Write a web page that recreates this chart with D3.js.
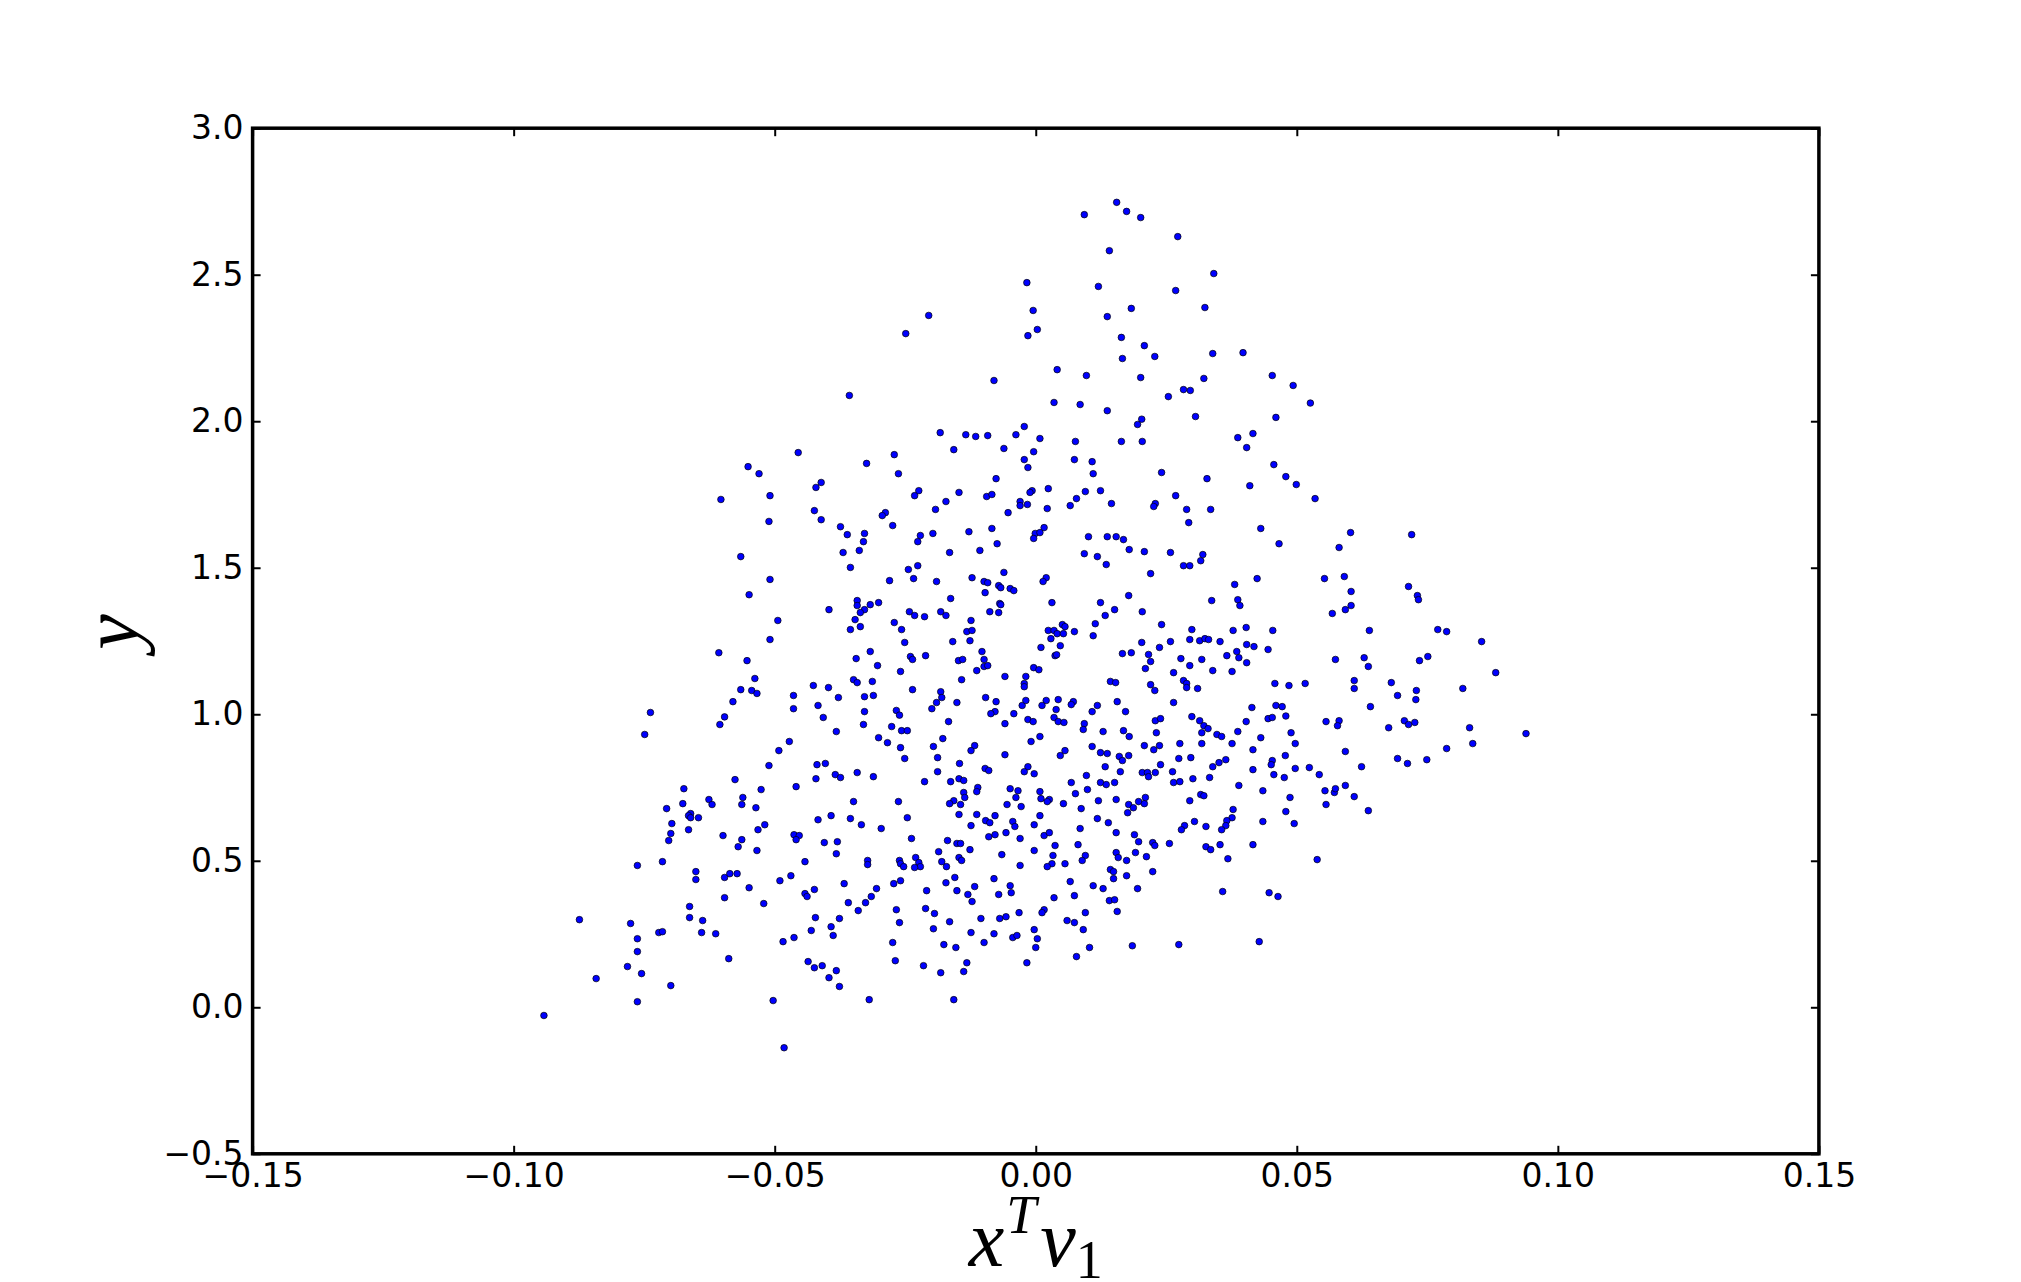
<!DOCTYPE html>
<html>

<head>
    <meta charset="utf-8">
    <title>x^T v1 vs y</title>
    <script src="https://d3js.org/d3.v7.min.js"></script>
    <style>
        body {
            margin: 0;
            background: #fff;
        }

        svg {
            display: block;
        }

        .axis path.domain {
            display: none;
        }

        .tick line {
            stroke: black;
            stroke-width: 2px;
        }

        .tick text {
            font-family: "DejaVu Sans", sans-serif;
            font-size: 33px;
            fill: black;
        }

        .frame {
            fill: none;
            stroke: black;
            stroke-width: 3.5px;
        }

        circle.pt {
            fill: #0000ff;
            stroke: black;
            stroke-width: 0.7px;
        }

        .label {
            font-family: "Liberation Serif", serif;
            font-style: italic;
            fill: black;
        }
    </style>
</head>

<body>
    <script>
        // tick values
        let xTicks = [-0.15, -0.10, -0.05, 0, 0.05, 0.10, 0.15];
        let yTicks = [-0.5, 0, 0.5, 1.0, 1.5, 2.0, 2.5, 3.0];

        // [x^T v1, y]
        let points = [
            [-0.0017, 2.473], [-0.0005, 2.378], [-0.0205, 2.361], [-0.0249, 2.299], [-0.0015, 2.292], [-0.0080, 2.139], [-0.0357, 2.088],
            [0.0093, 2.705], [0.0155, 2.747], [0.0174, 2.716], [0.0201, 2.695], [0.0272, 2.630], [0.0141, 2.582], [0.0341, 2.504], [0.0120, 2.460],
            [0.0268, 2.446], [0.0183, 2.385], [0.0324, 2.388], [0.0137, 2.357], [0.0003, 2.313], [0.0164, 2.286], [0.0208, 2.258], [0.0166, 2.214],
            [0.0228, 2.221], [0.0339, 2.231], [0.0397, 2.234], [0.0041, 2.176], [0.0097, 2.156], [0.0201, 2.149], [0.0322, 2.146], [0.0453, 2.156],
            [0.0493, 2.122], [0.0283, 2.108], [0.0296, 2.105], [0.0254, 2.084], [0.0035, 2.064], [0.0085, 2.057], [0.0137, 2.036], [0.0203, 2.007],
            [0.0306, 2.016], [0.0460, 2.013], [0.0526, 2.062],

            [-0.0551, 1.845], [-0.0530, 1.821], [-0.0509, 1.746], [-0.0603, 1.733], [-0.0511, 1.658], [-0.0565, 1.538], [-0.0509, 1.460],
            [-0.0549, 1.408], [-0.0509, 1.255], [-0.0607, 1.210], [-0.0553, 1.183], [-0.0538, 1.122], [-0.0565, 1.084], [-0.0544, 1.081],
            [-0.0534, 1.071], [-0.0580, 1.043], [-0.0738, 1.006],

            [-0.0183, 1.961], [-0.0134, 1.954], [-0.0115, 1.948], [-0.0092, 1.951], [-0.0038, 1.954], [-0.0022, 1.982], [-0.0455, 1.893],
            [-0.0271, 1.886], [-0.0157, 1.903], [-0.0061, 1.907], [-0.0004, 1.896], [-0.0324, 1.856], [-0.0263, 1.821], [-0.0022, 1.869],
            [-0.0015, 1.842], [-0.0411, 1.791], [-0.0421, 1.774], [-0.0076, 1.804], [-0.0224, 1.763], [-0.0232, 1.746], [-0.0147, 1.757],
            [-0.0172, 1.726], [-0.0192, 1.699], [-0.0094, 1.743], [-0.0084, 1.750], [-0.0007, 1.763], [-0.0011, 1.757], [-0.0030, 1.726],
            [-0.0030, 1.712], [-0.0016, 1.716], [-0.0053, 1.688], [-0.0424, 1.695], [-0.0411, 1.664], [-0.0288, 1.688], [-0.0294, 1.678],
            [-0.0274, 1.644], [-0.0374, 1.640], [-0.0361, 1.613], [-0.0328, 1.617], [-0.0330, 1.589], [-0.0338, 1.559], [-0.0369, 1.552],
            [-0.0221, 1.610], [-0.0226, 1.589], [-0.0197, 1.617], [-0.0128, 1.623], [-0.0084, 1.634], [-0.0074, 1.582], [-0.0107, 1.559],
            [-0.0165, 1.552], [-0.0001, 1.617], [-0.0004, 1.600], [-0.0355, 1.501], [-0.0244, 1.494], [-0.0226, 1.507], [-0.0234, 1.463],
            [-0.0280, 1.456], [-0.0190, 1.453], [-0.0122, 1.466], [-0.0061, 1.484], [-0.0099, 1.453], [-0.0092, 1.449], [-0.0097, 1.415],
            [-0.0071, 1.439], [-0.0067, 1.432], [-0.0049, 1.429], [-0.0042, 1.422], [-0.0163, 1.395], [-0.0069, 1.378], [-0.0067, 1.374],
            [-0.0088, 1.350], [-0.0071, 1.347], [-0.0342, 1.388], [-0.0342, 1.371], [-0.0328, 1.357], [-0.0336, 1.347], [-0.0317, 1.374],
            [-0.0301, 1.381], [-0.0396, 1.357], [-0.0494, 1.320], [-0.0346, 1.323], [-0.0355, 1.289], [-0.0336, 1.299], [-0.0271, 1.313],
            [-0.0257, 1.289], [-0.0251, 1.245], [-0.0242, 1.350], [-0.0232, 1.337], [-0.0213, 1.333], [-0.0182, 1.350], [-0.0172, 1.337],
            [-0.0124, 1.320], [-0.0132, 1.282], [-0.0122, 1.286], [-0.0126, 1.251], [-0.0159, 1.248], [-0.0317, 1.214], [-0.0344, 1.190],
            [-0.0303, 1.166], [-0.0240, 1.197], [-0.0236, 1.187], [-0.0211, 1.200], [-0.0259, 1.146], [-0.0148, 1.183], [-0.0140, 1.187],
            [-0.0103, 1.214], [-0.0099, 1.187], [-0.0099, 1.163], [-0.0092, 1.166], [-0.0113, 1.149], [-0.0142, 1.118], [-0.0059, 1.129],
            [-0.0019, 1.129], [-0.0022, 1.105], [-0.0022, 1.094], [-0.0004, 1.159], [-0.0349, 1.118], [-0.0342, 1.108], [-0.0313, 1.112],
            [-0.0426, 1.098], [-0.0397, 1.091], [-0.0378, 1.057], [-0.0464, 1.064], [-0.0464, 1.019], [-0.0417, 1.030], [-0.0328, 1.060],
            [-0.0311, 1.064], [-0.0328, 1.009], [-0.0236, 1.084], [-0.0182, 1.077], [-0.0180, 1.057], [-0.0190, 1.040], [-0.0199, 1.019],
            [-0.0267, 1.013], [-0.0151, 1.040], [-0.0096, 1.057], [-0.0076, 1.043], [-0.0078, 1.009], [-0.0086, 1.002], [-0.0042, 1.002],
            [-0.0026, 1.030], [-0.0019, 1.047],

            [0.0195, 1.989], [0.0008, 1.941], [0.0076, 1.931], [0.0164, 1.931], [0.0204, 1.931], [0.0387, 1.944], [0.0416, 1.958],
            [0.0404, 1.910], [0.0074, 1.869], [0.0108, 1.862], [0.0110, 1.821], [0.0241, 1.825], [0.0328, 1.804], [0.0456, 1.852],
            [0.0479, 1.811], [0.0499, 1.784], [0.0410, 1.780], [0.0024, 1.770], [0.0095, 1.760], [0.0124, 1.763], [0.0078, 1.736],
            [0.0066, 1.712], [0.0145, 1.719], [0.0022, 1.702], [0.0229, 1.719], [0.0226, 1.709], [0.0268, 1.746], [0.0289, 1.699],
            [0.0335, 1.699], [0.0293, 1.654], [0.0431, 1.634], [0.0466, 1.582], [0.0016, 1.637], [0.0008, 1.620], [0.0101, 1.606],
            [0.0137, 1.606], [0.0154, 1.606], [0.0168, 1.596], [0.0179, 1.562], [0.0208, 1.555], [0.0258, 1.552], [0.0093, 1.548],
            [0.0118, 1.538], [0.0135, 1.511], [0.0220, 1.480], [0.0283, 1.507], [0.0295, 1.507], [0.0316, 1.524], [0.0320, 1.545],
            [0.0020, 1.466], [0.0014, 1.453], [0.0381, 1.443], [0.0424, 1.463], [0.0031, 1.381], [0.0124, 1.381], [0.0178, 1.405],
            [0.0337, 1.388], [0.0387, 1.391], [0.0391, 1.371], [0.0151, 1.357], [0.0133, 1.337], [0.0204, 1.350], [0.0114, 1.309],
            [0.0110, 1.268], [0.0241, 1.306], [0.0051, 1.306], [0.0056, 1.299], [0.0024, 1.286], [0.0035, 1.286], [0.0041, 1.275],
            [0.0029, 1.258], [0.0053, 1.275], [0.0074, 1.282], [0.0047, 1.234], [0.0010, 1.228], [0.0037, 1.200], [0.0040, 1.203],
            [0.0006, 1.152], [0.0299, 1.289], [0.0378, 1.286], [0.0403, 1.296], [0.0454, 1.286], [0.0203, 1.245], [0.0258, 1.248],
            [0.0295, 1.255], [0.0314, 1.251], [0.0324, 1.258], [0.0331, 1.255], [0.0353, 1.248], [0.0404, 1.238], [0.0418, 1.231],
            [0.0445, 1.221], [0.0166, 1.207], [0.0183, 1.210], [0.0216, 1.204], [0.0237, 1.228], [0.0220, 1.180], [0.0210, 1.156],
            [0.0278, 1.190], [0.0295, 1.166], [0.0318, 1.187], [0.0264, 1.142], [0.0339, 1.149], [0.0366, 1.200], [0.0385, 1.214],
            [0.0389, 1.193], [0.0404, 1.176], [0.0376, 1.146], [0.0143, 1.112], [0.0153, 1.108], [0.0220, 1.101], [0.0228, 1.081],
            [0.0283, 1.115], [0.0289, 1.105], [0.0289, 1.091], [0.0310, 1.088], [0.0458, 1.105], [0.0485, 1.098], [0.0020, 1.047],
            [0.0012, 1.030], [0.0043, 1.050], [0.0039, 1.016], [0.0072, 1.043], [0.0068, 1.033], [0.0118, 1.030], [0.0108, 1.009],
            [0.0156, 1.043], [0.0172, 1.009], [0.0264, 1.040], [0.0414, 1.023], [0.0460, 1.030], [0.0472, 1.026],

            [0.0535, 1.736], [0.0603, 1.620], [0.0720, 1.613], [0.0581, 1.569], [0.0553, 1.463], [0.0591, 1.470], [0.0604, 1.419],
            [0.0714, 1.436], [0.0731, 1.405], [0.0733, 1.391], [0.0604, 1.371], [0.0593, 1.357], [0.0568, 1.344], [0.0639, 1.286],
            [0.0770, 1.289], [0.0787, 1.282], [0.0854, 1.248], [0.0574, 1.187], [0.0629, 1.193], [0.0637, 1.163], [0.0735, 1.183],
            [0.0751, 1.197], [0.0881, 1.142], [0.0516, 1.105], [0.0610, 1.115], [0.0610, 1.088], [0.0681, 1.108], [0.0693, 1.064],
            [0.0729, 1.081], [0.0728, 1.050], [0.0818, 1.088], [0.0641, 1.026],

            [-0.0596, 0.991], [-0.0605, 0.965], [-0.0749, 0.931], [-0.0511, 0.825], [-0.0576, 0.777], [-0.0674, 0.746], [-0.0526, 0.743],
            [-0.0561, 0.716], [-0.0626, 0.709], [-0.0620, 0.692], [-0.0563, 0.692], [-0.0536, 0.681], [-0.0676, 0.695], [-0.0707, 0.678],
            [-0.0661, 0.661], [-0.0665, 0.654], [-0.0661, 0.647], [-0.0646, 0.647], [-0.0697, 0.627], [-0.0699, 0.593], [-0.0703, 0.569],
            [-0.0665, 0.606], [-0.0519, 0.623], [-0.0532, 0.606], [-0.0599, 0.586], [-0.0563, 0.572], [-0.0570, 0.548], [-0.0534, 0.535],
            [-0.0763, 0.484], [-0.0715, 0.497], [-0.0651, 0.463], [-0.0651, 0.436], [-0.0596, 0.443], [-0.0586, 0.456], [-0.0572, 0.456],
            [-0.0549, 0.408], [-0.0596, 0.374], [-0.0521, 0.354], [-0.0663, 0.344], [-0.0663, 0.306], [-0.0638, 0.296], [-0.0640, 0.255],
            [-0.0613, 0.251], [-0.0874, 0.299], [-0.0776, 0.286], [-0.0722, 0.255], [-0.0715, 0.258], [-0.0763, 0.234], [-0.0763, 0.190],
            [-0.0588, 0.166], [-0.0782, 0.139], [-0.0755, 0.115], [-0.0842, 0.098], [-0.0699, 0.074], [-0.0763, 0.019], [-0.0942, -0.028],
            [-0.0503, 0.023],

            [-0.0407, 0.989], [-0.0330, 0.965], [-0.0382, 0.941], [-0.0276, 0.958], [-0.0261, 0.997], [-0.0257, 0.944], [-0.0246, 0.944],
            [-0.0167, 0.975], [-0.0059, 0.968], [-0.0015, 0.982], [-0.0005, 0.975], [-0.0472, 0.907], [-0.0492, 0.876], [-0.0301, 0.920],
            [-0.0284, 0.903], [-0.0259, 0.886], [-0.0251, 0.849], [-0.0178, 0.917], [-0.0196, 0.890], [-0.0188, 0.852], [-0.0188, 0.804],
            [-0.0117, 0.893], [-0.0124, 0.876], [-0.0059, 0.862], [-0.0009, 0.907], [-0.0419, 0.828], [-0.0403, 0.832], [-0.0421, 0.780],
            [-0.0384, 0.794], [-0.0374, 0.784], [-0.0342, 0.801], [-0.0311, 0.787], [-0.0459, 0.753], [-0.0213, 0.770], [-0.0146, 0.832],
            [-0.0097, 0.815], [-0.0090, 0.808], [-0.0163, 0.770], [-0.0147, 0.780], [-0.0138, 0.774], [-0.0138, 0.733], [-0.0136, 0.716],
            [-0.0157, 0.705], [-0.0165, 0.695], [-0.0144, 0.692], [-0.0111, 0.750], [-0.0113, 0.736], [-0.0015, 0.821], [-0.0022, 0.804],
            [-0.0003, 0.797], [-0.0049, 0.746], [-0.0034, 0.739], [-0.0038, 0.716], [-0.0055, 0.692], [-0.0028, 0.685], [-0.0349, 0.702],
            [-0.0263, 0.702], [-0.0417, 0.640], [-0.0392, 0.654], [-0.0355, 0.644], [-0.0334, 0.623], [-0.0296, 0.610], [-0.0246, 0.647],
            [-0.0238, 0.576], [-0.0463, 0.589], [-0.0453, 0.586], [-0.0459, 0.572], [-0.0405, 0.562], [-0.0380, 0.565], [-0.0382, 0.524],
            [-0.0442, 0.497], [-0.0322, 0.501], [-0.0322, 0.487], [-0.0261, 0.501], [-0.0259, 0.490], [-0.0253, 0.480], [-0.0230, 0.511],
            [-0.0224, 0.494], [-0.0221, 0.480], [-0.0232, 0.477], [-0.0147, 0.658], [-0.0124, 0.620], [-0.0113, 0.658], [-0.0096, 0.637],
            [-0.0088, 0.630], [-0.0078, 0.654], [-0.0090, 0.582], [-0.0078, 0.589], [-0.0057, 0.596], [-0.0044, 0.634], [-0.0040, 0.617],
            [-0.0030, 0.576], [-0.0003, 0.623], [-0.0003, 0.535], [-0.0169, 0.569], [-0.0151, 0.559], [-0.0144, 0.559], [-0.0126, 0.538],
            [-0.0186, 0.531], [-0.0180, 0.497], [-0.0171, 0.480], [-0.0147, 0.511], [-0.0142, 0.501], [-0.0065, 0.521], [-0.0030, 0.484],
            [-0.0490, 0.432], [-0.0469, 0.449], [-0.0442, 0.388], [-0.0438, 0.378], [-0.0424, 0.402], [-0.0367, 0.422], [-0.0305, 0.405],
            [-0.0315, 0.378], [-0.0326, 0.357], [-0.0359, 0.357], [-0.0340, 0.330], [-0.0272, 0.422], [-0.0259, 0.432], [-0.0267, 0.333],
            [-0.0261, 0.289], [-0.0209, 0.398], [-0.0211, 0.337], [-0.0194, 0.320], [-0.0165, 0.292], [-0.0196, 0.268], [-0.0172, 0.425],
            [-0.0155, 0.443], [-0.0151, 0.398], [-0.0130, 0.385], [-0.0122, 0.361], [-0.0117, 0.412], [-0.0080, 0.439], [-0.0071, 0.385],
            [-0.0049, 0.415], [-0.0047, 0.391], [-0.0105, 0.303], [-0.0069, 0.303], [-0.0057, 0.309], [-0.0032, 0.323], [-0.0124, 0.255],
            [-0.0099, 0.221], [-0.0080, 0.251], [-0.0044, 0.238], [-0.0036, 0.245], [-0.0003, 0.265], [-0.0176, 0.214], [-0.0153, 0.204],
            [-0.0274, 0.221], [-0.0269, 0.159], [-0.0215, 0.142], [-0.0182, 0.118], [-0.0132, 0.152], [-0.0138, 0.122], [-0.0017, 0.152],
            [-0.0422, 0.306], [-0.0376, 0.303], [-0.0392, 0.275], [-0.0388, 0.245], [-0.0430, 0.262], [-0.0484, 0.224], [-0.0463, 0.238],
            [-0.0436, 0.156], [-0.0424, 0.135], [-0.0409, 0.142], [-0.0382, 0.125], [-0.0396, 0.101], [-0.0376, 0.071], [-0.0319, 0.026],
            [-0.0157, 0.026], [-0.0482, -0.138],

            [0.0035, 0.989], [0.0043, 0.975], [0.0054, 0.972], [0.0093, 0.968], [0.0091, 0.948], [0.0129, 0.941], [0.0168, 0.944],
            [0.0179, 0.924], [0.0008, 0.924], [0.0229, 0.978], [0.0239, 0.985], [0.0231, 0.937], [0.0299, 0.992], [0.0314, 0.978],
            [0.0322, 0.961], [0.0330, 0.951], [0.0318, 0.937], [0.0347, 0.931], [0.0356, 0.924], [0.0403, 0.975], [0.0387, 0.941],
            [0.0445, 0.985], [0.0453, 0.989], [0.0479, 0.994], [0.0489, 0.937], [0.0431, 0.920], [0.0497, 0.900], [0.0108, 0.890],
            [0.0056, 0.876], [0.0047, 0.859], [0.0124, 0.869], [0.0137, 0.866], [0.0160, 0.856], [0.0166, 0.842], [0.0178, 0.859],
            [0.0208, 0.893], [0.0226, 0.879], [0.0237, 0.893], [0.0276, 0.900], [0.0318, 0.900], [0.0376, 0.900], [0.0274, 0.849],
            [0.0297, 0.852], [0.0239, 0.828], [0.0133, 0.821], [0.0162, 0.804], [0.0204, 0.801], [0.0214, 0.801], [0.0216, 0.787],
            [0.0229, 0.801], [0.0262, 0.804], [0.0097, 0.791], [0.0068, 0.767], [0.0124, 0.767], [0.0135, 0.760], [0.0151, 0.767],
            [0.0099, 0.743], [0.0076, 0.729], [0.0008, 0.736], [0.0010, 0.712], [0.0026, 0.709], [0.0022, 0.702], [0.0053, 0.695],
            [0.0120, 0.705], [0.0154, 0.709], [0.0178, 0.692], [0.0187, 0.681], [0.0176, 0.664], [0.0197, 0.702], [0.0208, 0.695],
            [0.0210, 0.716], [0.0087, 0.678], [0.0008, 0.654], [0.0118, 0.644], [0.0139, 0.630], [0.0085, 0.610], [0.0154, 0.596],
            [0.0189, 0.589], [0.0197, 0.565], [0.0016, 0.586], [0.0026, 0.596], [0.0037, 0.552], [0.0081, 0.555], [0.0033, 0.518],
            [0.0031, 0.490], [0.0022, 0.480], [0.0056, 0.490], [0.0095, 0.518], [0.0089, 0.501], [0.0154, 0.528], [0.0158, 0.511],
            [0.0191, 0.528], [0.0174, 0.501], [0.0212, 0.514], [0.0224, 0.562], [0.0228, 0.552], [0.0256, 0.559], [0.0295, 0.705],
            [0.0316, 0.726], [0.0322, 0.722], [0.0301, 0.780], [0.0264, 0.767], [0.0276, 0.770], [0.0333, 0.784], [0.0339, 0.821],
            [0.0351, 0.835], [0.0364, 0.845], [0.0389, 0.757], [0.0416, 0.879], [0.0416, 0.811], [0.0453, 0.842], [0.0451, 0.828],
            [0.0456, 0.794], [0.0478, 0.859], [0.0476, 0.784], [0.0497, 0.815], [0.0435, 0.739], [0.0487, 0.716], [0.0479, 0.668],
            [0.0495, 0.627], [0.0435, 0.634], [0.0378, 0.675], [0.0376, 0.647], [0.0366, 0.637], [0.0364, 0.620], [0.0356, 0.606],
            [0.0326, 0.617], [0.0304, 0.634], [0.0285, 0.620], [0.0279, 0.606], [0.0326, 0.548], [0.0335, 0.538], [0.0353, 0.555],
            [0.0368, 0.507], [0.0416, 0.555], [0.0224, 0.463], [0.0174, 0.449], [0.0143, 0.470], [0.0149, 0.463], [0.0149, 0.439],
            [0.0129, 0.405], [0.0110, 0.415], [0.0066, 0.429], [0.0074, 0.381], [0.0035, 0.374], [0.0195, 0.405], [0.0141, 0.364],
            [0.0151, 0.367], [0.0156, 0.327], [0.0095, 0.323], [0.0060, 0.296], [0.0074, 0.289], [0.0091, 0.265], [0.0016, 0.333],
            [0.0012, 0.323], [0.0003, 0.234], [0.0000, 0.204], [0.0103, 0.204], [0.0078, 0.173], [0.0185, 0.210], [0.0274, 0.214],
            [0.0358, 0.395], [0.0447, 0.391], [0.0464, 0.378], [0.0428, 0.224],

            [0.0556, 0.975], [0.0581, 0.978], [0.0578, 0.961], [0.0676, 0.954], [0.0706, 0.978], [0.0714, 0.965], [0.0726, 0.972],
            [0.0831, 0.954], [0.0939, 0.934], [0.0593, 0.873], [0.0787, 0.883], [0.0837, 0.900], [0.0693, 0.849], [0.0712, 0.832],
            [0.0749, 0.845], [0.0524, 0.818], [0.0543, 0.794], [0.0624, 0.821], [0.0554, 0.739], [0.0572, 0.733], [0.0574, 0.746],
            [0.0593, 0.757], [0.0610, 0.719], [0.0556, 0.692], [0.0637, 0.671], [0.0539, 0.504]
        ];

        let width = 2021;
        let height = 1282;
        // plot box in pixels
        let boxLeft = 252.6, boxRight = 1818.9, boxTop = 128.2, boxBottom = 1153.8;

        let svg = d3.select('body').append('svg')
            .attr('width', width)
            .attr('height', height);

        let x_scale = d3.scaleLinear()
            .domain([xTicks[0], xTicks[xTicks.length - 1]])
            .range([boxLeft, boxRight]);

        let y_scale = d3.scaleLinear()
            .domain([yTicks[0], yTicks[yTicks.length - 1]])
            .range([boxBottom, boxTop]);

        // ticks point inwards on all four sides (classic matplotlib look)
        svg.append('g')
            .attr('class', 'x axis')
            .attr('transform', 'translate(0,' + boxBottom + ')')
            .call(d3.axisBottom(x_scale).tickValues(xTicks).tickFormat(d3.format('.2f'))
                .tickSize(-8).tickSizeOuter(0).tickPadding(10));

        svg.append('g')
            .attr('class', 'x axis')
            .attr('transform', 'translate(0,' + boxTop + ')')
            .call(d3.axisTop(x_scale).tickValues(xTicks).tickFormat('')
                .tickSize(-8).tickSizeOuter(0));

        svg.append('g')
            .attr('class', 'y axis')
            .attr('transform', 'translate(' + boxLeft + ',0)')
            .call(d3.axisLeft(y_scale).tickValues(yTicks).tickFormat(d3.format('.1f'))
                .tickSize(-8).tickSizeOuter(0).tickPadding(9));

        svg.append('g')
            .attr('class', 'y axis')
            .attr('transform', 'translate(' + boxRight + ',0)')
            .call(d3.axisRight(y_scale).tickValues(yTicks).tickFormat('')
                .tickSize(-8).tickSizeOuter(0));

        svg.selectAll('circle.pt')
            .data(points)
            .join('circle')
            .attr('class', 'pt')
            .attr('cx', d => x_scale(d[0]))
            .attr('cy', d => y_scale(d[1]))
            .attr('r', 3.3);

        svg.append('rect')
            .attr('class', 'frame')
            .attr('x', boxLeft)
            .attr('y', boxTop)
            .attr('width', boxRight - boxLeft)
            .attr('height', boxBottom - boxTop);

        // axis labels
        let xl = svg.append('text')
            .attr('class', 'label')
            .attr('x', (boxLeft + boxRight) / 2)
            .attr('y', 1266)
            .attr('text-anchor', 'middle')
            .style('font-size', '80px');
        xl.append('tspan').text('x');
        xl.append('tspan').attr('dy', -33).attr('dx', 2).style('font-size', '54px').text('T');
        xl.append('tspan').attr('dy', 33).attr('dx', 4).text('v');
        xl.append('tspan').attr('dy', 12).style('font-size', '54px').style('font-style', 'normal').text('1');

        svg.append('text')
            .attr('class', 'label')
            .attr('transform', 'translate(138,' + ((boxTop + boxBottom) / 2 - 9) + ') rotate(-90)')
            .attr('text-anchor', 'middle')
            .style('font-size', '80px')
            .text('y');
    </script>
</body>

</html>
